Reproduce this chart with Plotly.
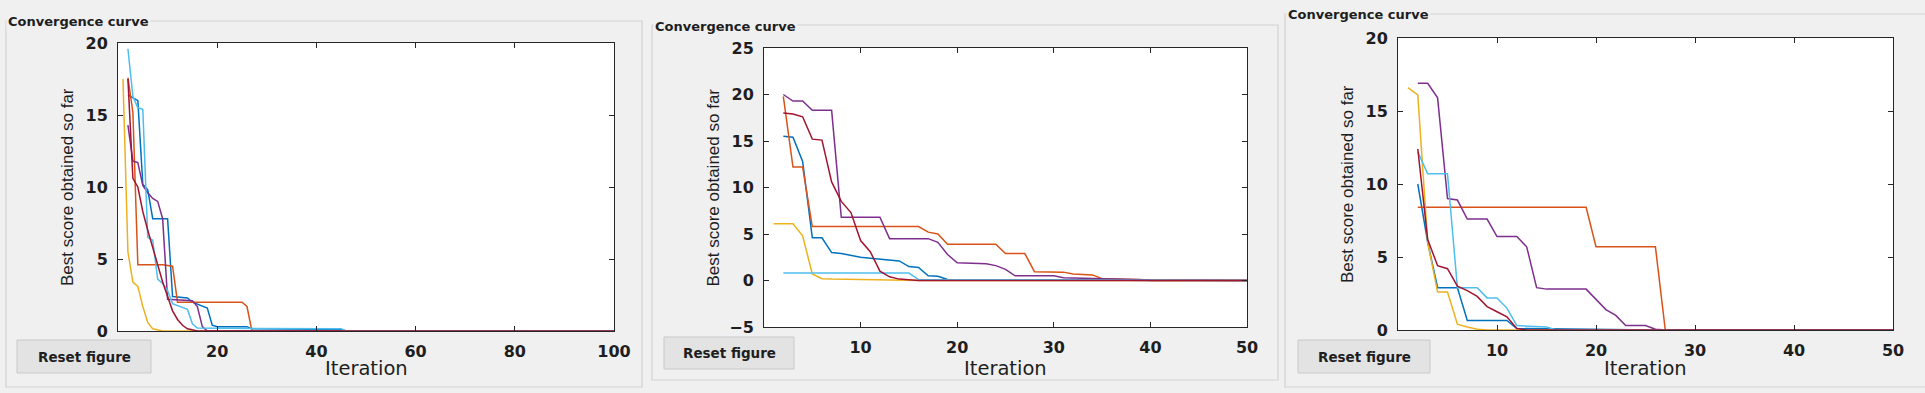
import plotly.graph_objects as go

# ---------------- data ----------------
# Panel 1 (100 iterations)
p1_blue_it = [2, 3, 4, 5, 6, 7, 10, 11, 14, 15, 17, 18, 19, 20, 26, 27, 45, 46, 100]
p1_blue_sc = [16.4, 16.2, 16.0, 10.2, 9.8, 7.8, 7.8, 2.4, 2.3, 2.0, 1.7, 1.6, 0.4, 0.3, 0.3, 0.15, 0.1, 0, 0]
p1_orange_it = [2, 3, 4, 9, 11, 12, 25, 26, 27, 100]
p1_orange_sc = [17.6, 15.2, 4.6, 4.6, 4.5, 2.0, 2.0, 1.7, 0, 0]
p1_yellow_it = [1, 2, 3, 4, 5, 6, 7, 8, 9, 100]
p1_yellow_sc = [17.5, 5.5, 3.4, 3.1, 1.7, 0.6, 0.15, 0.05, 0, 0]
p1_purple_it = [2, 3, 4, 5, 6, 7, 8, 9, 10, 15, 16, 17, 18, 100]
p1_purple_sc = [14.3, 11.8, 11.7, 10.1, 9.6, 9.2, 9.0, 7.8, 2.2, 2.1, 1.7, 0.3, 0, 0]
p1_cyan_it = [2, 3, 4, 5, 6, 7, 8, 9, 10, 11, 14, 15, 16, 17, 45, 46, 100]
p1_cyan_sc = [19.6, 16.3, 15.5, 15.4, 6.5, 6.3, 3.6, 3.3, 2.8, 1.9, 1.5, 0.5, 0.2, 0.2, 0.15, 0, 0]
p1_red_it = [2, 3, 4, 5, 6, 7, 8, 9, 10, 11, 12, 13, 14, 15, 16, 100]
p1_red_sc = [17.5, 10.6, 10.0, 8.3, 7.0, 5.8, 4.7, 3.4, 2.4, 1.4, 0.8, 0.4, 0.15, 0.05, 0, 0]

# Panel 2 (50 iterations)
p2_blue_it = [2, 3, 4, 5, 6, 7, 8, 9, 10, 11, 12, 13, 14, 15, 16, 17, 18, 19, 30, 35, 40, 50]
p2_blue_sc = [15.5, 15.4, 12.8, 4.6, 4.6, 3.0, 2.9, 2.7, 2.5, 2.4, 2.3, 2.2, 2.1, 1.5, 1.4, 0.5, 0.45, 0.1, 0.1, 0.05, 0, 0]
p2_orange_it = [2, 3, 4, 5, 16, 17, 18, 19, 24, 25, 27, 28, 31, 32, 34, 35, 39, 40, 50]
p2_orange_sc = [19.8, 12.2, 12.2, 5.8, 5.8, 5.2, 5.0, 3.9, 3.9, 2.9, 2.9, 0.95, 0.9, 0.7, 0.6, 0.2, 0.1, 0, 0]
p2_yellow_it = [1, 2, 3, 4, 5, 6, 7, 10, 15, 16, 50]
p2_yellow_sc = [6.1, 6.1, 6.1, 4.8, 0.7, 0.2, 0.15, 0.1, 0.02, 0, 0]
p2_purple_it = [2, 3, 4, 5, 7, 8, 12, 13, 17, 18, 19, 20, 23, 24, 25, 26, 30, 31, 35, 40, 50]
p2_purple_sc = [20, 19.3, 19.3, 18.3, 18.3, 6.8, 6.8, 4.5, 4.5, 4.1, 2.8, 1.9, 1.8, 1.6, 1.2, 0.5, 0.5, 0.3, 0.2, 0.05, 0]
p2_cyan_it = [2, 15, 16, 50]
p2_cyan_sc = [0.8, 0.8, 0.1, 0]
p2_red_it = [2, 3, 4, 5, 6, 7, 8, 9, 10, 11, 12, 13, 14, 15, 16, 50]
p2_red_sc = [18, 17.9, 17.6, 15.2, 15.1, 10.6, 8.5, 7.3, 4.3, 3.1, 1.0, 0.4, 0.15, 0.05, 0, 0]

# Panel 3 (50 iterations)
p3_blue_it = [2, 3, 4, 6, 7, 11, 12, 20, 25, 26, 50]
p3_blue_sc = [10.0, 6.0, 2.9, 2.9, 0.65, 0.65, 0.1, 0.05, 0.05, 0, 0]
p3_orange_it = [2, 19, 20, 26, 27, 50]
p3_orange_sc = [8.4, 8.4, 5.7, 5.7, 0, 0]
p3_yellow_it = [1, 2, 3, 4, 5, 6, 7, 8, 9, 50]
p3_yellow_sc = [16.6, 16.1, 6.0, 2.6, 2.6, 0.4, 0.2, 0.05, 0, 0]
p3_purple_it = [2, 3, 4, 5, 6, 7, 9, 10, 12, 13, 14, 15, 19, 20, 21, 22, 23, 25, 26, 27, 50]
p3_purple_sc = [16.9, 16.9, 15.9, 9.0, 8.9, 7.6, 7.6, 6.4, 6.4, 5.7, 2.9, 2.8, 2.8, 2.1, 1.4, 1.0, 0.3, 0.3, 0.05, 0, 0]
p3_cyan_it = [2, 3, 5, 6, 8, 9, 10, 11, 12, 15, 16, 50]
p3_cyan_sc = [12.2, 10.7, 10.7, 2.9, 2.9, 2.2, 2.2, 1.5, 0.3, 0.2, 0, 0]
p3_red_it = [2, 3, 4, 5, 6, 7, 8, 9, 10, 11, 12, 13, 50]
p3_red_sc = [12.4, 6.2, 4.4, 4.2, 3.0, 2.7, 2.3, 1.6, 1.25, 0.9, 0.1, 0, 0]

x_ranges = [[0, 100], [0, 50], [0, 50]]
y_ranges = [[0, 20], [-5, 25], [0, 20]]
x_ticks = [[20, 40, 60, 80, 100], [10, 20, 30, 40, 50], [10, 20, 30, 40, 50]]
y_ticks = [[0, 5, 10, 15, 20], [-5, 0, 5, 10, 15, 20, 25], [0, 5, 10, 15, 20]]

panel_title = "Convergence curve"
x_title = "Iteration"
y_title = "Best score obtained so far"
button_text = "Reset figure"

# ---------------- styling / layout ----------------
W, H = 1925, 393
C_BLUE, C_ORANGE, C_YELLOW = "#0072BD", "#D95319", "#EDB120"
C_PURPLE, C_CYAN, C_RED = "#7E2F8E", "#4DBEEE", "#A2142F"

series = [
    [(p1_blue_it, p1_blue_sc, C_BLUE), (p1_orange_it, p1_orange_sc, C_ORANGE),
     (p1_yellow_it, p1_yellow_sc, C_YELLOW), (p1_purple_it, p1_purple_sc, C_PURPLE),
     (p1_cyan_it, p1_cyan_sc, C_CYAN), (p1_red_it, p1_red_sc, C_RED)],
    [(p2_blue_it, p2_blue_sc, C_BLUE), (p2_orange_it, p2_orange_sc, C_ORANGE),
     (p2_yellow_it, p2_yellow_sc, C_YELLOW), (p2_purple_it, p2_purple_sc, C_PURPLE),
     (p2_cyan_it, p2_cyan_sc, C_CYAN), (p2_red_it, p2_red_sc, C_RED)],
    [(p3_blue_it, p3_blue_sc, C_BLUE), (p3_orange_it, p3_orange_sc, C_ORANGE),
     (p3_yellow_it, p3_yellow_sc, C_YELLOW), (p3_purple_it, p3_purple_sc, C_PURPLE),
     (p3_cyan_it, p3_cyan_sc, C_CYAN), (p3_red_it, p3_red_sc, C_RED)],
]

# pixel geometry: plot areas (left, right, top, bottom)
plots_px = [(118, 614, 43, 331), (764, 1247, 48, 327), (1398, 1893, 38, 330)]
boxes_px = [(6, 642, 21, 387), (652, 1278, 25, 380), (1285, 1935, 14, 387)]
titles_px = [(6, 22), (653, 26), (1286, 15)]
buttons_px = [(17, 151, 340, 373), (664, 794, 337, 369), (1298, 1430, 340, 373)]


def fx(x):
    return x / W


def fy(y):
    return 1 - y / H


fig = go.Figure()
TEXT = "#1e1e1e"
AX = "#262626"
tickfont = dict(family="DejaVu Sans", size=16, color=TEXT, weight="bold")

shapes = []
annotations = []
layout_axes = {}

for k in range(3):
    suffix = "" if k == 0 else str(k + 1)
    xa, ya = "x" + suffix, "y" + suffix
    for (xs, ys, col) in series[k]:
        fig.add_trace(go.Scatter(x=xs, y=ys, mode="lines", xaxis=xa, yaxis=ya,
                                 line=dict(color=col, width=1.5), showlegend=False,
                                 hoverinfo="skip"))
    l, r, t, b = plots_px[k]
    layout_axes["xaxis" + suffix] = dict(
        domain=[fx(l), fx(r)], range=x_ranges[k], anchor=ya,
        tickvals=x_ticks[k], ticks="inside", ticklen=5, tickwidth=1, tickcolor=AX,
        showline=True, linecolor=AX, linewidth=1, mirror="ticks",
        showgrid=False, zeroline=False, tickfont=tickfont, ticklabelstandoff=6,
        fixedrange=True, automargin=False)
    layout_axes["yaxis" + suffix] = dict(
        domain=[fy(b), fy(t)], range=y_ranges[k], anchor=xa,
        tickvals=y_ticks[k], ticks="inside", ticklen=5, tickwidth=1, tickcolor=AX,
        showline=True, linecolor=AX, linewidth=1, mirror="ticks",
        showgrid=False, zeroline=False, tickfont=tickfont, ticklabelstandoff=6,
        fixedrange=True, automargin=False)

    bl, br, bt, bb = boxes_px[k]
    shapes.append(dict(type="rect", xref="paper", yref="paper",
                       x0=fx(bl), x1=fx(br), y0=fy(bb), y1=fy(bt),
                       line=dict(color="#d2d2d2", width=1.2), fillcolor="rgba(0,0,0,0)",
                       layer="below"))
    tx, ty = titles_px[k]
    annotations.append(dict(text=panel_title, xref="paper", yref="paper",
                            x=fx(tx), y=fy(ty), xanchor="left", yanchor="middle",
                            showarrow=False, bgcolor="#f0f0f0", borderpad=1,
                            font=dict(family="DejaVu Sans", size=13, color=TEXT,
                                      weight="bold")))
    annotations.append(dict(text=x_title, xref="paper", yref="paper",
                            x=fx((l + r) / 2), y=fy(368), xanchor="center", yanchor="middle",
                            showarrow=False,
                            font=dict(family="DejaVu Sans", size=19.5, color=TEXT)))
    annotations.append(dict(text=y_title, xref="paper", yref="paper",
                            x=fx(l - 51), y=fy((t + b) / 2), xanchor="center",
                            yanchor="middle", textangle=-90, showarrow=False,
                            font=dict(family="Liberation Sans", size=17, color=TEXT)))
    ul, ur, ut, ub = buttons_px[k]
    shapes.append(dict(type="rect", xref="paper", yref="paper",
                       x0=fx(ul), x1=fx(ur), y0=fy(ub), y1=fy(ut),
                       line=dict(color="#c9c9c9", width=1), fillcolor="#e3e3e3",
                       layer="above"))
    annotations.append(dict(text=button_text, xref="paper", yref="paper",
                            x=fx((ul + ur) / 2), y=fy((ut + ub) / 2), xanchor="center",
                            yanchor="middle", showarrow=False,
                            font=dict(family="DejaVu Sans", size=13.5, color=TEXT,
                                      weight="bold")))

fig.update_layout(
    width=W, height=H, margin=dict(l=0, r=0, t=0, b=0, pad=0),
    paper_bgcolor="#f0f0f0", plot_bgcolor="#ffffff",
    shapes=shapes, annotations=annotations, showlegend=False,
    **layout_axes)

fig.write_html(
    "out.html",
    config={"displayModeBar": False},
    post_script="document.body.style.margin='0';document.body.style.overflow='hidden';"
                "document.body.style.background='#f0f0f0';",
)
